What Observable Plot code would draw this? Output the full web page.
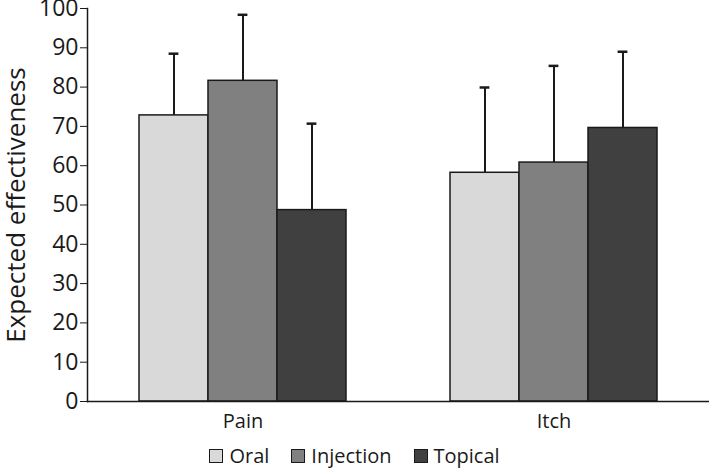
<!DOCTYPE html>
<html>
<head>
<meta charset="utf-8">
<script src="https://cdn.jsdelivr.net/npm/d3@7"></script>
<script src="https://cdn.jsdelivr.net/npm/@observablehq/plot@0.6"></script>
<style>
  html, body { margin: 0; padding: 0; background: #fff; }
  #chart svg { display: block; }
  .legend { display: flex; justify-content: center; align-items: center; height: 24px; line-height: 24px;
    font-family: 'Open Sans', sans-serif; font-size: 20px; color: #1a1a1a; width: 709px; }
  .legend .item { display: flex; align-items: center; margin: 0 11px; }
  .legend .sw { width: 14px; height: 14px; box-sizing: border-box; border: 1.5px solid #1a1a1a; margin-right: 6px; }
</style>
</head>
<body>
<div id="chart"></div>
<div class="legend" id="legend"></div>
<script>
const categories = ["Pain", "Itch"];
const treatments = ["Oral", "Injection", "Topical"];
const painMean = [72.8, 81.6, 48.7];
const painUpper = [88.5, 98.4, 70.7];
const itchMean = [58.2, 60.8, 69.6];
const itchUpper = [79.9, 85.4, 89.0];
const yTicks = [0, 10, 20, 30, 40, 50, 60, 70, 80, 90, 100];
const fills = ["#d9d9d9", "#808080", "#404040"];
const yLabel = "Expected effectiveness";

const rows = [];
treatments.forEach((t, i) => {
  rows.push({category: "Pain", treatment: t, mean: painMean[i], upper: painUpper[i]});
  rows.push({category: "Itch", treatment: t, mean: itchMean[i], upper: itchUpper[i]});
});

const chart = Plot.plot({
  width: 709,
  height: 444,
  marginTop: 8,
  marginBottom: 43,
  marginLeft: 86,
  marginRight: 0,
  style: {fontFamily: "'Open Sans', sans-serif", color: "#1a1a1a", background: "white", overflow: "visible"},
  fx: {domain: categories, padding: 0, label: null},
  x: {domain: treatments, paddingInner: 0, paddingOuter: 0.747, axis: null},
  y: {domain: [0, 100]},
  color: {domain: treatments, range: fills},
  marks: [
    Plot.barY(rows, {fx: "category", x: "treatment", y: "mean", fill: "treatment", stroke: "#1a1a1a", strokeWidth: 1.5}),
    Plot.ruleX(rows, {fx: "category", x: "treatment", y1: "mean", y2: "upper", stroke: "#1a1a1a", strokeWidth: 2}),
    Plot.tickY(rows, {fx: "category", x: "treatment", y: "upper", insetLeft: 29.6, insetRight: 29.6, stroke: "#1a1a1a", strokeWidth: 2.5}),
    Plot.ruleY([0], {stroke: "#1a1a1a", strokeWidth: 1.5}),
    Plot.axisY({ticks: yTicks, tickSize: 7, tickPadding: 2, fontSize: 23, label: yLabel, labelAnchor: "center", labelArrow: "none", labelOffset: 81}),
    Plot.axisFx({anchor: "bottom", tickSize: 0, tickPadding: 12, fontSize: 20, label: null}),
    Plot.frame({anchor: "left", facetAnchor: "left", stroke: "#1a1a1a", strokeWidth: 1.5})
  ]
});
d3.select(chart).selectAll('[aria-label="y-axis label"]').attr("font-size", 26);
document.getElementById("chart").appendChild(chart);

const legend = d3.select("#legend");
treatments.forEach((t, i) => {
  const item = legend.append("div").attr("class", "item");
  item.append("div").attr("class", "sw").style("background", fills[i]);
  item.append("span").text(t);
});
</script>
</body>
</html>
